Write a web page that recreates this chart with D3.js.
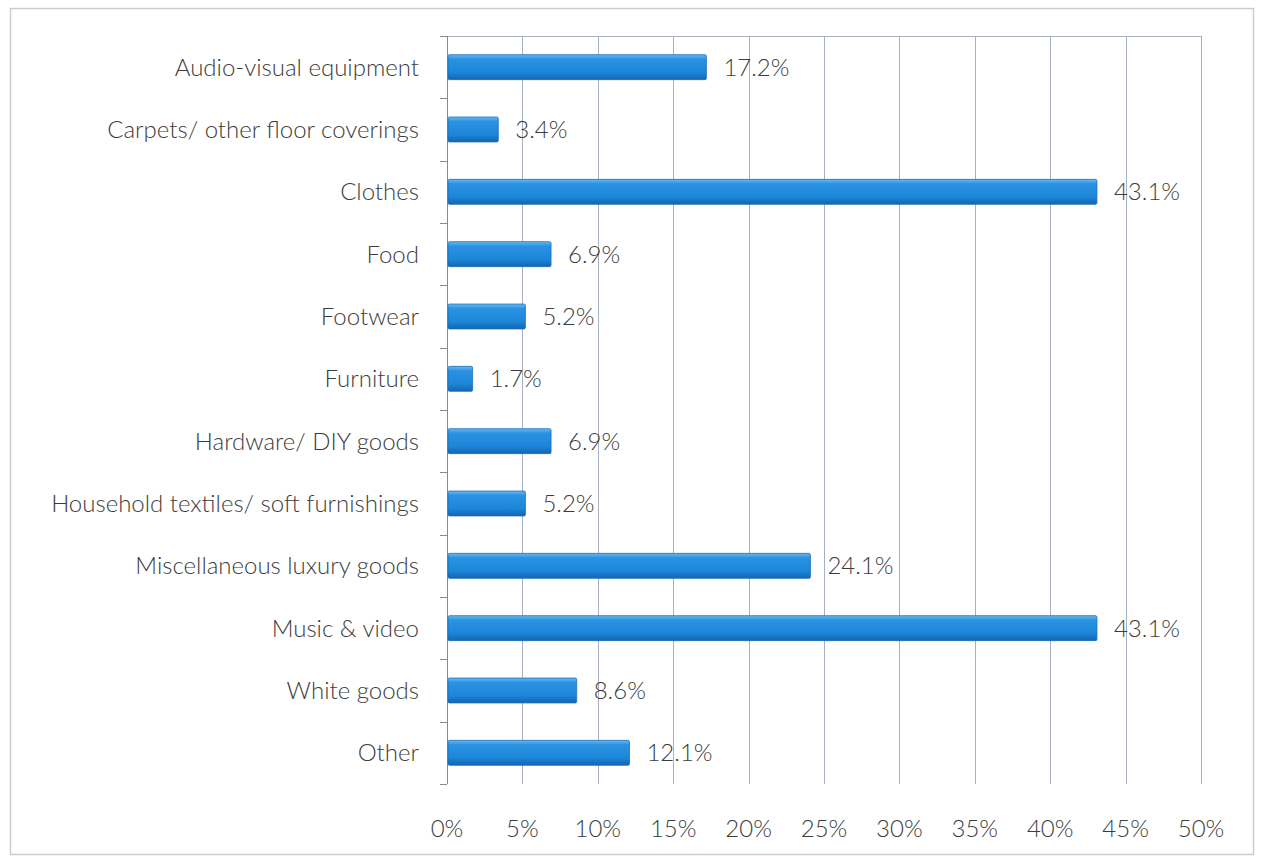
<!DOCTYPE html>
<html>
<head>
<meta charset="utf-8">
<script src="https://cdn.jsdelivr.net/npm/d3@7"></script>
<style>
  html, body { margin: 0; padding: 0; background: #fff; }
  svg { display: block; }
</style>
</head>
<body>
<svg id="chart" width="1261" height="863"></svg>
<script>
// Share of respondents by product category
const categories = [
  "Audio-visual equipment",
  "Carpets/ other floor coverings",
  "Clothes",
  "Food",
  "Footwear",
  "Furniture",
  "Hardware/ DIY goods",
  "Household textiles/ soft furnishings",
  "Miscellaneous luxury goods",
  "Music & video",
  "White goods",
  "Other"
];
const values = [17.2, 3.4, 43.1, 6.9, 5.2, 1.7, 6.9, 5.2, 24.1, 43.1, 8.6, 12.1];
const xTicks = [0, 5, 10, 15, 20, 25, 30, 35, 40, 45, 50];

const svg = d3.select("#chart");
const font = "Lato, 'Open Sans', sans-serif";
const fontSize = 24;
const textColor = "#3c3c3c";

// Outer frame
svg.append("rect")
  .attr("x", 10.5).attr("y", 8.5)
  .attr("width", 1243).attr("height", 846)
  .attr("fill", "#fff")
  .attr("stroke", "#c8cdd8").attr("stroke-width", 1.5);

const plotLeft = 447, plotRight = 1201, plotTop = 36, plotBottom = 784;

const x = d3.scaleLinear().domain([0, 50]).range([plotLeft, plotRight]);
const y = d3.scaleBand().domain(categories).range([plotTop, plotBottom]).paddingInner(0.6).paddingOuter(0.3);
const yEdges = d3.scaleLinear().domain([0, categories.length]).range([plotTop, plotBottom]);

// Bar gradient
const defs = svg.append("defs");
const grad = defs.append("linearGradient").attr("id", "barGrad")
  .attr("x1", 0).attr("y1", 0).attr("x2", 0).attr("y2", 1);
grad.append("stop").attr("offset", "0%").attr("stop-color", "#6bb8f0");
grad.append("stop").attr("offset", "18%").attr("stop-color", "#2a92e2");
grad.append("stop").attr("offset", "70%").attr("stop-color", "#1c86d8");
grad.append("stop").attr("offset", "100%").attr("stop-color", "#1565b0");

// Vertical gridlines
svg.append("g")
  .selectAll("line")
  .data(xTicks.slice(1))
  .join("line")
  .attr("x1", d => Math.round(x(d)) + 0.5)
  .attr("x2", d => Math.round(x(d)) + 0.5)
  .attr("y1", plotTop).attr("y2", plotBottom)
  .attr("stroke", "#a7b0c4").attr("stroke-width", 1);

// Top gridline
svg.append("line")
  .attr("x1", plotLeft).attr("x2", plotRight)
  .attr("y1", plotTop + 0.5).attr("y2", plotTop + 0.5)
  .attr("stroke", "#a7b0c4").attr("stroke-width", 1);

// Category axis line and tick marks at band edges
svg.append("line")
  .attr("x1", plotLeft + 0.5).attr("x2", plotLeft + 0.5)
  .attr("y1", plotTop).attr("y2", plotBottom)
  .attr("stroke", "#8a8a8a").attr("stroke-width", 1);
svg.append("g")
  .selectAll("line")
  .data(d3.range(categories.length + 1))
  .join("line")
  .attr("x1", plotLeft - 7).attr("x2", plotLeft)
  .attr("y1", d => Math.round(yEdges(d)) + 0.5)
  .attr("y2", d => Math.round(yEdges(d)) + 0.5)
  .attr("stroke", "#8a8a8a").attr("stroke-width", 1);

// Bars
svg.append("g")
  .selectAll("rect")
  .data(categories)
  .join("rect")
  .attr("x", plotLeft + 1)
  .attr("y", d => y(d))
  .attr("width", (d, i) => x(values[i]) - plotLeft - 1)
  .attr("height", y.bandwidth())
  .attr("rx", 1.5)
  .attr("fill", "url(#barGrad)")
  .attr("stroke", "#1a6fba").attr("stroke-width", 0.8);

// Value labels
svg.append("g")
  .selectAll("text")
  .data(categories)
  .join("text")
  .attr("x", (d, i) => x(values[i]) + 17)
  .attr("y", d => y(d) + y.bandwidth() / 2)
  .attr("dy", "0.35em")
  .attr("font-family", font).attr("font-size", fontSize).attr("font-weight", 300)
  .attr("fill", textColor)
  .text((d, i) => d3.format(".1f")(values[i]) + "%");

// Category labels
svg.append("g")
  .selectAll("text")
  .data(categories)
  .join("text")
  .attr("x", 419)
  .attr("y", d => y(d) + y.bandwidth() / 2)
  .attr("dy", "0.35em")
  .attr("text-anchor", "end")
  .attr("font-family", font).attr("font-size", fontSize).attr("font-weight", 300)
  .attr("fill", textColor)
  .text(d => d);

// X tick labels
svg.append("g")
  .selectAll("text")
  .data(xTicks)
  .join("text")
  .attr("x", d => x(d))
  .attr("y", 829)
  .attr("dy", "0.35em")
  .attr("text-anchor", "middle")
  .attr("font-family", font).attr("font-size", fontSize).attr("font-weight", 300)
  .attr("fill", textColor)
  .text(d => d + "%");
</script>
</body>
</html>
